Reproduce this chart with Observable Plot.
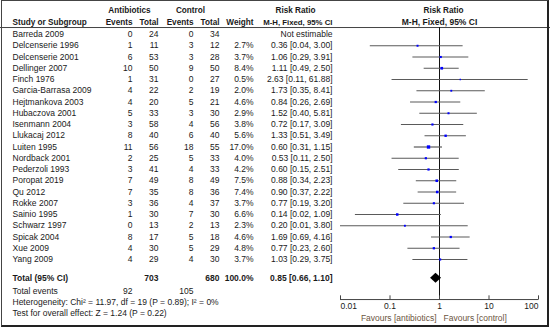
<!DOCTYPE html>
<html><head><meta charset="utf-8">
<script src="https://cdn.jsdelivr.net/npm/d3@7"></script>
<script src="https://cdn.jsdelivr.net/npm/@observablehq/plot@0.6"></script>
<style>
html,body{margin:0;padding:0;background:#fff}
#wrap{position:relative;width:550px;height:332px;overflow:hidden}
#border{position:absolute;left:1px;top:0px;width:548px;height:327px;box-sizing:border-box;border:1px solid #444;border-right:2px solid #222;border-bottom:2px solid #222;pointer-events:none}
</style></head><body><div id="wrap"><div id="chart"></div><div id="border"></div></div>
<script>
// ---- data ----
const studies = ["Barreda 2009","Delcenserie 1996","Delcenserie 2001","Dellinger 2007","Finch 1976","Garcia-Barrasa 2009","Hejtmankova 2003","Hubaczova 2001","Isenmann 2004","Llukacaj 2012","Luiten 1995","Nordback 2001","Pederzoli 1993","Poropat 2019","Qu 2012","Rokke 2007","Sainio 1995","Schwarz 1997","Spicak 2004","Xue 2009","Yang 2009"];
const abxEvents = [0,1,6,10,1,4,4,5,3,8,11,2,3,7,7,3,1,0,8,4,4];
const abxTotal  = [24,11,53,50,31,22,20,33,58,40,56,25,41,49,35,36,30,13,17,30,29];
const ctlEvents = [0,3,3,9,0,2,5,3,4,6,18,5,4,8,8,4,7,2,5,5,4];
const ctlTotal  = [34,12,28,50,27,19,21,30,56,40,55,33,33,49,36,37,30,13,18,29,30];
const weights   = [null,2.7,3.7,8.4,0.5,2.0,4.6,2.9,3.8,5.6,17.0,4.0,4.2,7.5,7.4,3.7,6.6,2.3,4.6,4.8,3.7];
const rrEst     = [null,0.36,1.06,1.11,2.63,1.73,0.84,1.52,0.72,1.33,0.60,0.53,0.60,0.88,0.90,0.77,0.14,0.20,1.69,0.77,1.03];
const rrLow     = [null,0.04,0.29,0.49,0.11,0.35,0.26,0.40,0.17,0.51,0.31,0.11,0.15,0.34,0.37,0.19,0.02,0.01,0.69,0.23,0.29];
const rrHigh    = [null,3.00,3.91,2.50,61.88,8.41,2.69,5.81,3.09,3.49,1.15,2.50,2.51,2.23,2.22,3.20,1.09,3.80,4.16,2.60,3.75];
const totalAbx = 703, totalCtl = 680, totalWeight = 100.0;
const totalRR = 0.85, totalLo = 0.66, totalHi = 1.10;
const totalEventsAbx = 92, totalEventsCtl = 105;
const heterogeneityText = "Heterogeneity: Chi\u00b2 = 11.97, df = 19 (P = 0.89); I\u00b2 = 0%";
const overallText = "Test for overall effect: Z = 1.24 (P = 0.22)";
const axisTicks = [0.01, 0.1, 1, 10, 100];
const favoursLeft = "Favours [antibiotics]";
const favoursRight = "Favours [control]";

// ---- layout (row positions in row units) ----
const Y_H1 = -2.13, Y_H2 = -1.07, Y_HLINE = -0.62;
const Y_TOTAL = 21.66, Y_TEV = 22.8, Y_HET = 23.78, Y_TEST = 24.8;
const Y_AXIS = 23.56, Y_TICKLAB = 24.18, Y_FAV = 25.24;
const DIAMOND_H = 0.44;

const rows = studies.map((s, i) => ({
  i, study: s, ae: abxEvents[i], at: abxTotal[i], ce: ctlEvents[i], ct: ctlTotal[i],
  w: weights[i], rr: rrEst[i], lo: rrLow[i], hi: rrHigh[i],
  wText: weights[i] == null ? "" : weights[i].toFixed(1) + "%",
  ciText: rrEst[i] == null ? "Not estimable" : `${rrEst[i].toFixed(2)} [${rrLow[i].toFixed(2)}, ${rrHigh[i].toFixed(2)}]`
}));
const est = rows.filter(d => d.rr != null);

const diamond = [
  {x: totalLo, y1: Y_TOTAL, y2: Y_TOTAL},
  {x: totalRR, y1: Y_TOTAL - DIAMOND_H, y2: Y_TOTAL + DIAMOND_H},
  {x: totalHi, y1: Y_TOTAL, y2: Y_TOTAL}
];

const ink = "#1a1a1a";
const HB = "8.2px";

const header1 = [
  {y: Y_H1, t: "Antibiotics", dx: 129},
  {y: Y_H1, t: "Control", dx: 190},
  {y: Y_H1, t: "Risk Ratio", dx: 295},
  {y: Y_H1, t: "Risk Ratio", dx: 443}
];
const header2end = [
  {y: Y_H2, t: "Events", dx: 132}, {y: Y_H2, t: "Total", dx: 158},
  {y: Y_H2, t: "Events", dx: 193}, {y: Y_H2, t: "Total", dx: 219},
  {y: Y_H2, t: "Weight", dx: 253}
];

const plot = Plot.plot({
  width: 550, height: 332,
  marginLeft: 0, marginRight: 0, marginTop: 0, marginBottom: 0,
  x: {type: "log", domain: [0.01, 100], range: [340, 538], axis: null},
  y: {type: "linear", domain: [0, 20], range: [34, 259], axis: null},
  r: {type: "sqrt", domain: [0, 17], range: [0.6, 1.9]},
  style: {fontFamily: "'Liberation Sans', Arial, sans-serif", fontSize: "8.5px", background: "white"},
  marks: [
    Plot.ruleY([Y_HLINE], {stroke: "#444", strokeWidth: 1}),
    Plot.ruleX([1], {y1: Y_HLINE, y2: Y_AXIS, stroke: "#111", strokeWidth: 1}),
    Plot.ruleY(est, {y: "i", x1: "lo", x2: "hi", stroke: "#5a5a5a", strokeWidth: 1.2}),
    Plot.dot(est, {x: "rr", y: "i", r: "w", symbol: "square", fill: "#0000ff", stroke: null}),
    Plot.areaY(diamond, {x: "x", y1: "y1", y2: "y2", fill: "black", curve: "linear"}),
    // axis
    Plot.ruleY([Y_AXIS], {x1: axisTicks[0], x2: axisTicks[axisTicks.length - 1], stroke: "#444"}),
    Plot.ruleX(axisTicks, {y1: Y_AXIS - 0.33, y2: Y_AXIS + 0.05, stroke: "#444"}),
    Plot.text(axisTicks.slice(0, 1), {x: d => d, y: Y_TICKLAB, text: d => String(d), textAnchor: "start", fill: ink}),
    Plot.text(axisTicks.slice(1, -1), {x: d => d, y: Y_TICKLAB, text: d => String(d), textAnchor: "middle", fill: ink}),
    Plot.text(axisTicks.slice(-1), {x: d => d, y: Y_TICKLAB, text: d => String(d), textAnchor: "end", fill: ink}),
    Plot.text([favoursLeft], {x: 1, y: Y_FAV, text: d => d, textAnchor: "end", dx: -3, fill: "#6b5440"}),
    Plot.text([favoursRight], {x: 1, y: Y_FAV, text: d => d, textAnchor: "start", dx: 4, fill: "#6b5440"}),
    // headers
    ...header1.map(h => Plot.text([h], {y: "y", text: "t", frameAnchor: "left", dx: h.dx, textAnchor: "middle", fill: ink, fontWeight: "bold", fontSize: HB})),
    Plot.text([{y: Y_H2, t: "Study or Subgroup"}], {y: "y", text: "t", frameAnchor: "left", dx: 12, textAnchor: "start", fill: ink, fontWeight: "bold", fontSize: HB}),
    ...header2end.map(h => Plot.text([h], {y: "y", text: "t", frameAnchor: "left", dx: h.dx, textAnchor: "end", fill: ink, fontWeight: "bold", fontSize: HB})),
    Plot.text([{y: Y_H2, t: "M-H, Fixed, 95% CI"}], {y: "y", text: "t", frameAnchor: "left", dx: 332, textAnchor: "end", fill: ink, fontWeight: "bold", fontSize: "7.8px"}),
    Plot.text([{y: Y_H2, t: "M-H, Fixed, 95% CI"}], {y: "y", text: "t", frameAnchor: "left", dx: 439, textAnchor: "middle", fill: ink, fontWeight: "bold", fontSize: "8.5px"}),
    // study rows
    Plot.text(rows, {y: "i", text: "study", frameAnchor: "left", dx: 12, textAnchor: "start", fill: ink}),
    Plot.text(rows, {y: "i", text: "ae", frameAnchor: "left", dx: 132, textAnchor: "end", fill: ink}),
    Plot.text(rows, {y: "i", text: "at", frameAnchor: "left", dx: 158, textAnchor: "end", fill: ink}),
    Plot.text(rows, {y: "i", text: "ce", frameAnchor: "left", dx: 193, textAnchor: "end", fill: ink}),
    Plot.text(rows, {y: "i", text: "ct", frameAnchor: "left", dx: 219, textAnchor: "end", fill: ink}),
    Plot.text(rows, {y: "i", text: "wText", frameAnchor: "left", dx: 253, textAnchor: "end", fill: ink}),
    Plot.text(rows, {y: "i", text: "ciText", frameAnchor: "left", dx: 332, textAnchor: "end", fill: ink}),
    // totals
    Plot.text(["Total (95% CI)"], {y: Y_TOTAL, text: d => d, frameAnchor: "left", dx: 12, textAnchor: "start", fill: ink, fontWeight: "bold"}),
    Plot.text([totalAbx], {y: Y_TOTAL, text: d => String(d), frameAnchor: "left", dx: 158, textAnchor: "end", fill: ink, fontWeight: "bold"}),
    Plot.text([totalCtl], {y: Y_TOTAL, text: d => String(d), frameAnchor: "left", dx: 219, textAnchor: "end", fill: ink, fontWeight: "bold"}),
    Plot.text([totalWeight], {y: Y_TOTAL, text: d => d.toFixed(1) + "%", frameAnchor: "left", dx: 253, textAnchor: "end", fill: ink, fontWeight: "bold"}),
    Plot.text([totalRR], {y: Y_TOTAL, text: d => `${d.toFixed(2)} [${totalLo.toFixed(2)}, ${totalHi.toFixed(2)}]`, frameAnchor: "left", dx: 332, textAnchor: "end", fill: ink, fontWeight: "bold"}),
    Plot.text(["Total events"], {y: Y_TEV, text: d => d, frameAnchor: "left", dx: 12, textAnchor: "start", fill: ink}),
    Plot.text([totalEventsAbx], {y: Y_TEV, text: d => String(d), frameAnchor: "left", dx: 132, textAnchor: "end", fill: ink}),
    Plot.text([totalEventsCtl], {y: Y_TEV, text: d => String(d), frameAnchor: "left", dx: 193, textAnchor: "end", fill: ink}),
    Plot.text([heterogeneityText], {y: Y_HET, text: d => d, frameAnchor: "left", dx: 12, textAnchor: "start", fill: ink}),
    Plot.text([overallText], {y: Y_TEST, text: d => d, frameAnchor: "left", dx: 12, textAnchor: "start", fill: ink})
  ]
});
document.getElementById("chart").appendChild(plot);
</script>
</body></html>
